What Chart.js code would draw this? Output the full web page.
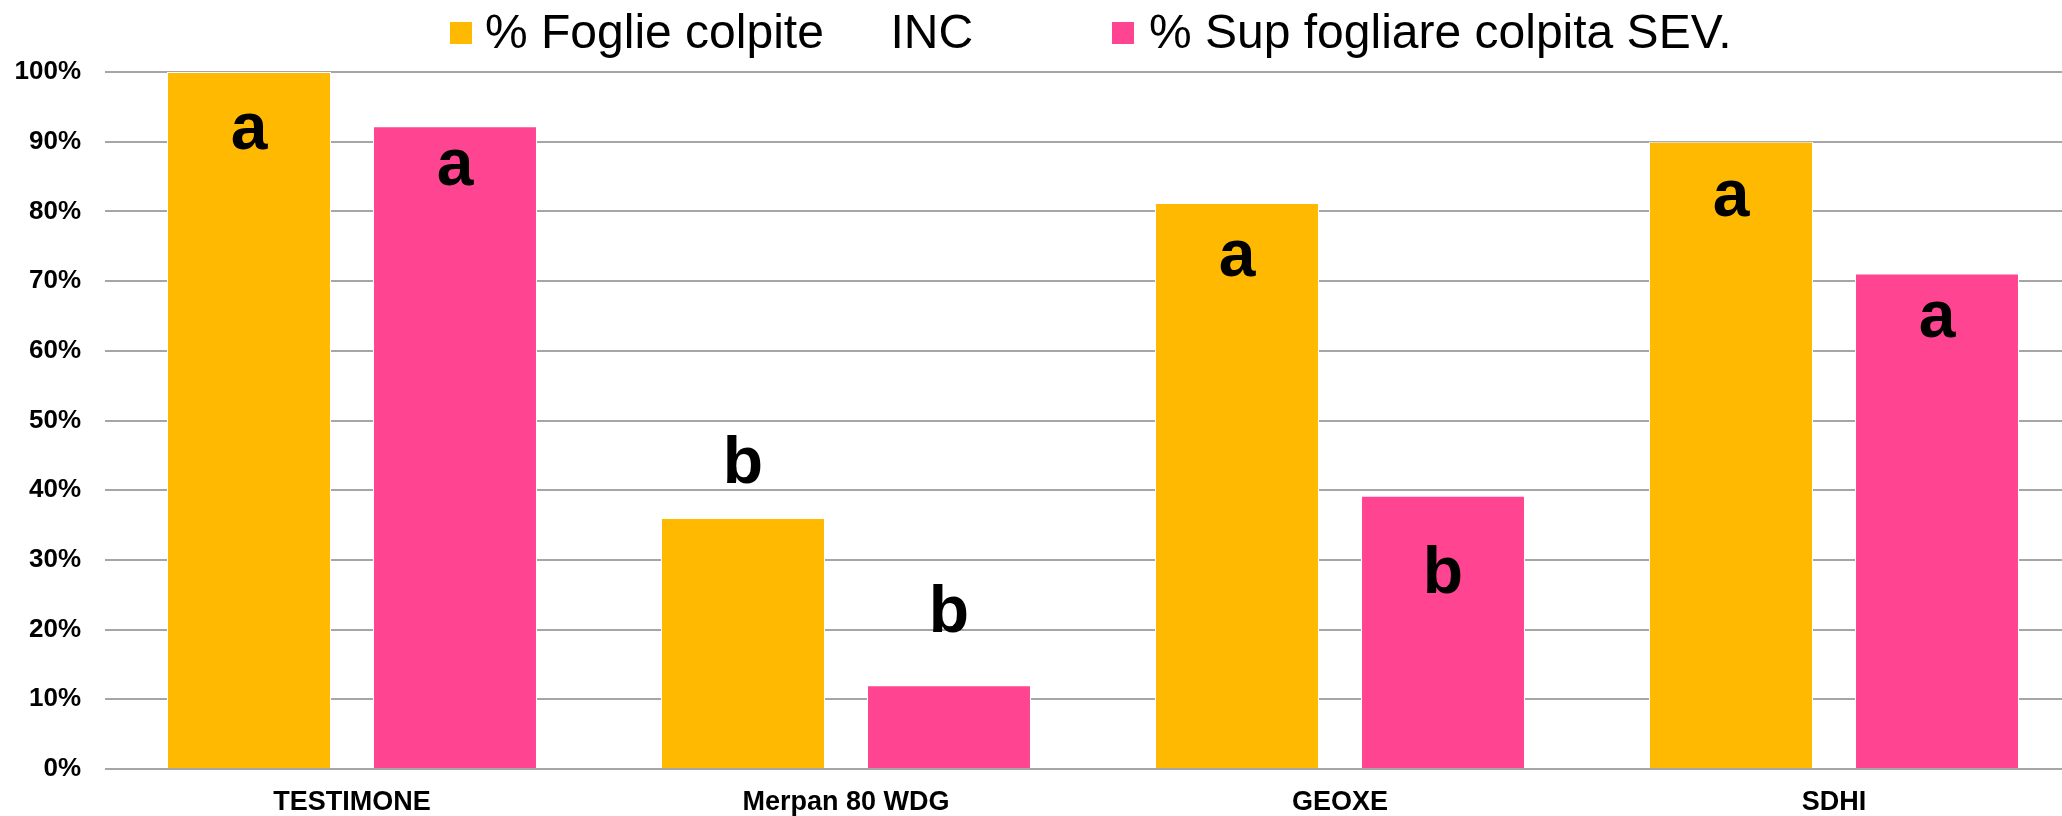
<!DOCTYPE html>
<html>
<head>
<meta charset="utf-8">
<script src="https://cdn.jsdelivr.net/npm/chart.js@4/dist/chart.umd.min.js"></script>
<style>
  html, body { margin: 0; padding: 0; background: #ffffff; overflow: hidden; }
  #wrap { position: relative; width: 2081px; height: 816px; }
</style>
</head>
<body>
<div id="wrap"><canvas id="c" width="2081" height="816"></canvas></div>
<script>
// ---- data ----
const categories = ['TESTIMONE', 'Merpan 80 WDG', 'GEOXE', 'SDHI'];
const incLabel = '% Foglie colpite     INC';
const sevLabel = '% Sup fogliare colpita SEV.';
const incValues = [100, 36, 81.2, 90];
const sevValues = [92.2, 12, 39.2, 71.1];
const incLetters = ['a', 'b', 'a', 'a'];
const sevLetters = ['a', 'b', 'b', 'a'];
// level (in % on the value axis) where each significance letter sits
const incLetterLevel = [89, 41, 70.7, 79.3];
const sevLetterLevel = [83.8, 19.7, 25.3, 62];
const yTicks = [0, 10, 20, 30, 40, 50, 60, 70, 80, 90, 100];

const FONT = '"Liberation Sans", Arial, Helvetica, sans-serif';
const YELLOW = '#FFB900';
const PINK = '#FF4591';

const lettersPlugin = {
  id: 'letters',
  afterDatasetsDraw(chart) {
    const ctx = chart.ctx;
    const ys = chart.scales.y;
    const sets = [[incLetters, incLetterLevel], [sevLetters, sevLetterLevel]];
    ctx.save();
    ctx.font = 'bold 66px ' + FONT;
    ctx.fillStyle = '#000';
    ctx.textAlign = 'center';
    ctx.textBaseline = 'alphabetic';
    sets.forEach(([letters, levels], di) => {
      const meta = chart.getDatasetMeta(di);
      meta.data.forEach((bar, i) => {
        ctx.fillText(letters[i], bar.x, ys.getPixelForValue(levels[i]));
      });
    });
    ctx.restore();
  }
};

const legendPlugin = {
  id: 'customLegend',
  afterDraw(chart) {
    const ctx = chart.ctx;
    const items = [
      { text: incLabel, color: YELLOW, x: 450, tx: 485 },
      { text: sevLabel, color: PINK, x: 1112, tx: 1149 }
    ];
    ctx.save();
    ctx.font = '48px ' + FONT;
    ctx.textAlign = 'left';
    ctx.textBaseline = 'alphabetic';
    items.forEach(it => {
      ctx.fillStyle = it.color;
      ctx.fillRect(it.x, 22, 22, 22);
      ctx.fillStyle = '#000';
      ctx.fillText(it.text, it.tx, 48);
    });
    ctx.restore();
  }
};

new Chart(document.getElementById('c'), {
  type: 'bar',
  data: {
    labels: categories,
    datasets: [
      { label: incLabel, data: incValues, backgroundColor: YELLOW, borderColor: '#ffffff', borderWidth: 1,
        categoryPercentage: 0.834, barPercentage: 0.796 },
      { label: sevLabel, data: sevValues, backgroundColor: PINK, borderColor: '#ffffff', borderWidth: 1,
        categoryPercentage: 0.834, barPercentage: 0.796 }
    ]
  },
  options: {
    responsive: false,
    animation: false,
    devicePixelRatio: 1,
    layout: { padding: { top: 72, left: 0, right: 0, bottom: 0 } },
    plugins: {
      legend: { display: false },
      tooltip: { enabled: false }
    },
    scales: {
      x: {
        grid: { display: false, drawTicks: false },
        border: { display: false },
        ticks: {
          color: '#000',
          font: { family: FONT, size: 27, weight: 'bold' },
          padding: 17,
          maxRotation: 0,
          autoSkip: false
        },
        afterFit(scale) { scale.height = 47; }
      },
      y: {
        min: 0,
        max: 100,
        grid: { color: '#A6A6A6', lineWidth: 2, drawTicks: false },
        border: { display: false },
        afterBuildTicks(scale) { scale.ticks = yTicks.map(v => ({ value: v })); },
        ticks: {
          color: '#000',
          font: { family: FONT, size: 26, weight: 'bold' },
          padding: 24,
          callback: v => v + '%'
        },
        afterFit(scale) { scale.width = 105; }
      }
    }
  },
  plugins: [lettersPlugin, legendPlugin]
});
</script>
</body>
</html>
